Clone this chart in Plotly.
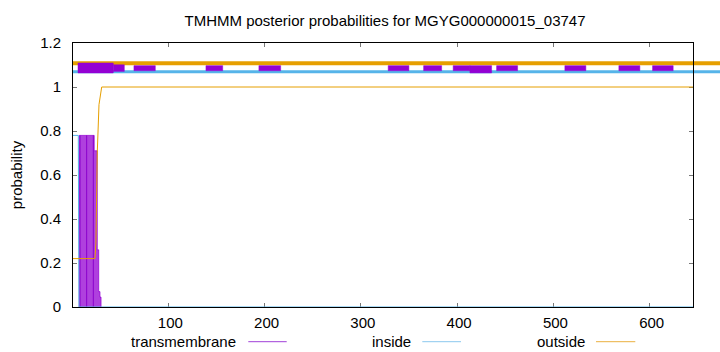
import plotly.graph_objects as go

# ---------------- data ----------------
seq_len = 645
title_text = "TMHMM posterior probabilities for MGYG000000015_03747"

# posterior curves (breakpoints)
inside_x = [1, 6.5, 7.2, 645]
inside_y = [0.78, 0.78, 0.0, 0.0]

outside_x = [1, 23.8, 24.8, 26.2, 28, 29.5, 30.8, 645]
outside_y = [0.22, 0.22, 0.29, 0.70, 0.92, 0.96, 1.0, 1.0]

tm_x = [7.5, 7.5, 23, 26.2, 27.7, 29, 30.1]
tm_y = [0.0, 0.78, 0.71, 0.26, 0.07, 0.045, 0.0]

# darker impulse lines inside the transmembrane block
tm_impulse_x = [8.3, 15.2, 22.1]
tm_impulse_y = [0.78, 0.78, 0.78]

# topology strip at the top
outside_strip_y = 1.108
inside_strip_y = 1.069
box_start = [6.2, 42.8, 64.3, 139.1, 194.1, 328.4, 365.2, 395.9, 413.3, 441.0, 511.9, 568.0, 603.0]
box_end = [42.8, 54.3, 86.5, 156.5, 216.7, 349.9, 383.9, 413.3, 435.8, 462.8, 533.7, 589.8, 624.4]
box_low = [1.064, 1.071, 1.074, 1.074, 1.074, 1.074, 1.074, 1.074, 1.064, 1.074, 1.074, 1.074, 1.074]
box_high = [1.109, 1.101, 1.097, 1.097, 1.097, 1.097, 1.097, 1.097, 1.097, 1.097, 1.097, 1.097, 1.097]

x_ticks = [100, 200, 300, 400, 500, 600]
y_ticks = [0, 0.2, 0.4, 0.6, 0.8, 1.0, 1.2]
y_tick_labels = ["0", "0.2", "0.4", "0.6", "0.8", "1", "1.2"]

legend_names = ["transmembrane", "inside", "outside"]

# ---------------- style ----------------
PURPLE = "#9400D3"
BLUE = "#56B4E9"
ORANGE = "#E69F00"
FONT = "Liberation Sans, Arial, sans-serif"

W, H = 720, 352
L, R, T, B = 73, 27, 43, 45
PW, PH = W - L - R, H - T - B


def px2paper_x(px):
    return (px - L) / PW


def px2paper_y(py):
    return (H - B - py) / PH


fig = go.Figure()

# transmembrane filled block
fig.add_trace(go.Scatter(
    x=tm_x, y=tm_y, mode="lines", line=dict(shape="hv", color="rgba(148,0,211,0.75)", width=1),
    fill="tozeroy", fillcolor="rgba(148,0,211,0.75)", hoverinfo="skip", showlegend=False))

# darker impulse lines
imp_x, imp_y = [], []
for xv, yv in zip(tm_impulse_x, tm_impulse_y):
    imp_x += [xv, xv, None]
    imp_y += [0, yv, None]
fig.add_trace(go.Scatter(x=imp_x, y=imp_y, mode="lines",
                         line=dict(color="#8A00CC", width=1), showlegend=False, hoverinfo="skip"))

# inside / outside curves
fig.add_trace(go.Scatter(x=inside_x, y=inside_y, mode="lines",
                         line=dict(color=BLUE, width=1), showlegend=False))
fig.add_trace(go.Scatter(x=outside_x, y=outside_y, mode="lines",
                         line=dict(color=ORANGE, width=1), showlegend=False))

# topology strip boxes (purple)
for s, e, lo, hi in zip(box_start, box_end, box_low, box_high):
    fig.add_trace(go.Scatter(
        x=[s, e, e, s, s], y=[lo, lo, hi, hi, lo], mode="lines", fill="toself",
        fillcolor=PURPLE, line=dict(color=PURPLE, width=0.5), showlegend=False, hoverinfo="skip"))

# topology strip lines (extend past the right border as in the reference)
shapes = [
    dict(type="line", xref="paper", yref="y", x0=0, x1=px2paper_x(W), y0=outside_strip_y,
         y1=outside_strip_y, line=dict(color=ORANGE, width=4), layer="below"),
    dict(type="line", xref="paper", yref="y", x0=0, x1=px2paper_x(W), y0=inside_strip_y,
         y1=inside_strip_y, line=dict(color=BLUE, width=3), layer="below"),
]

# legend (gnuplot style: text then sample line)
legend_text_right = [238.5, 412.7, 586.7]
legend_line_x = [(248.3, 286.7), (422.3, 461.0), (596.0, 635.3)]
legend_colors = ["#A040D8", "#8CC8EE", "#EAB040"]
legend_y = 341.0
annotations = []
for name, tr, (lx0, lx1), col in zip(legend_names, legend_text_right, legend_line_x, legend_colors):
    annotations.append(dict(text=name, xref="paper", yref="paper", x=px2paper_x(tr),
                            y=px2paper_y(legend_y), xanchor="right", yanchor="middle",
                            showarrow=False, font=dict(family=FONT, size=15, color="black")))
    shapes.append(dict(type="line", xref="paper", yref="paper", x0=px2paper_x(lx0), x1=px2paper_x(lx1),
                       y0=px2paper_y(legend_y + 0.7), y1=px2paper_y(legend_y + 0.7),
                       line=dict(color=col, width=1)))

fig.update_layout(
    width=W, height=H,
    margin=dict(l=L, r=R, t=T, b=B),
    paper_bgcolor="white", plot_bgcolor="white",
    font=dict(family=FONT, size=15, color="black"),
    title=dict(text=title_text, x=385 / W, xref="container", xanchor="center",
               y=1 - 21 / H, yref="container", yanchor="middle",
               font=dict(family=FONT, size=15, color="black")),
    showlegend=False,
    shapes=shapes,
    annotations=annotations,
    xaxis=dict(range=[1, seq_len], tickvals=x_ticks, ticks="inside", ticklen=4, tickcolor="#777",
               showline=True, linecolor="black", linewidth=1, mirror="ticks",
               showgrid=False, zeroline=False, ticklabelstandoff=2, ticklabelshift=2,
               layer="below traces", tickfont=dict(family=FONT, size=15)),
    yaxis=dict(range=[0, 1.2], tickvals=y_ticks, ticktext=y_tick_labels, ticks="inside", ticklen=4,
               tickcolor="#777", showline=True, linecolor="black", linewidth=1, mirror="ticks",
               showgrid=False, zeroline=False, ticklabelstandoff=8, layer="below traces",
               title=dict(text="probability", standoff=13, font=dict(family=FONT, size=15)),
               tickfont=dict(family=FONT, size=15)),
)

fig.write_html("out.html")
